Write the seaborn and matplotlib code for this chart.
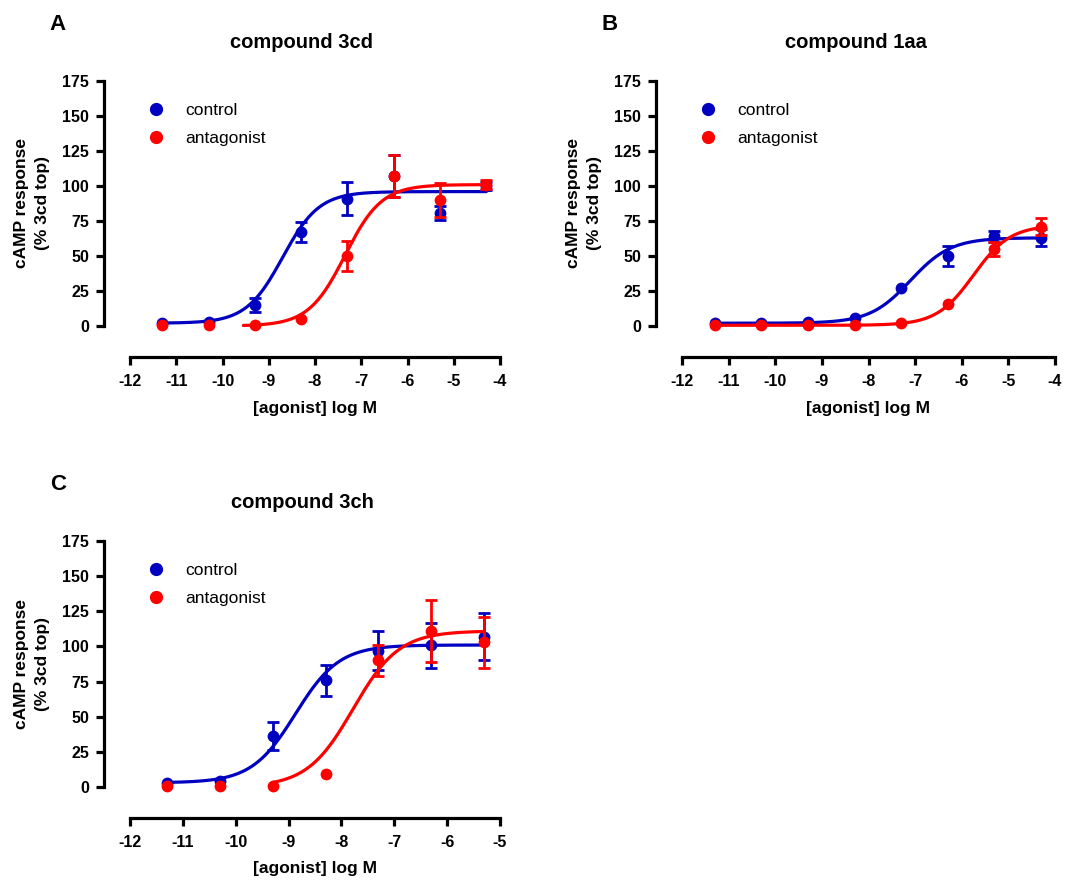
import numpy as np
import matplotlib
matplotlib.use("Agg")
import matplotlib.pyplot as plt
from matplotlib.lines import Line2D
import seaborn as sns

# --- DATOS ---
# log [agonista] usado en los tres paneles
log_ag = [-11.3, -10.3, -9.3, -8.3, -7.3, -6.3, -5.3, -4.3]
log_ag_c = [-11.3, -10.3, -9.3, -8.3, -7.3, -6.3, -5.3]

# Panel A: compound 3cd
a_control = [2, 3, 15, 67, 91, 107, 81, 100]
a_control_err = [0, 0, 5, 7, 12, 15, 5, 3]
a_antag = [1, 1, 1, 5, 50, 107, 90, 101]
a_antag_err = [0, 0, 0, 0, 11, 15, 12, 3]

# Panel B: compound 1aa
b_control = [2, 2, 2.5, 6, 27, 50, 64, 63]
b_control_err = [0, 0, 0, 0, 0, 7, 4, 6]
b_antag = [0.5, 0.5, 0.5, 0.5, 2, 16, 55, 71]
b_antag_err = [0, 0, 0, 0, 0, 0, 5, 6]

# Panel C: compound 3ch
c_control = [3, 4, 36, 76, 97, 101, 107]
c_control_err = [0, 0, 10, 11, 14, 16, 17]
c_antag = [1, 1, 1, 9, 90, 111, 103]
c_antag_err = [0, 0, 0, 0, 11, 22, 18]

# ajuste sigmoidal (bottom, top, logEC50, hill) y rango de la curva
a_control_fit = [2, 96, -8.7, 1.1]
a_antag_fit = [0, 101, -7.35, 1.1]
b_control_fit = [2, 63, -7.1, 1.0]
b_antag_fit = [0.5, 72, -5.75, 1.1]
c_control_fit = [3, 101, -8.87, 1.05]
c_antag_fit = [0, 111, -7.78, 1.0]

a_control_rango = [-11.3, -4.3]
a_antag_rango = [-9.55, -4.3]
b_control_rango = [-11.3, -4.3]
b_antag_rango = [-11.3, -4.3]
c_control_rango = [-11.3, -5.3]
c_antag_rango = [-9.3, -5.3]

titulos = ['compound 3cd', 'compound 1aa', 'compound 3ch']
letras = ['A', 'B', 'C']
series = ['control', 'antagonist']
y_ticks = [0, 25, 50, 75, 100, 125, 150, 175]

AZUL = '#0000C0'
ROJO = '#FF0000'


def sigmoide(x, p):
    bottom, top, logec50, hill = p
    return bottom + (top - bottom) / (1 + 10 ** (hill * (logec50 - x)))


sns.set_style("ticks")
plt.rcParams['font.family'] = ['Liberation Sans', 'DejaVu Sans']
plt.rcParams['font.weight'] = 'bold'
plt.rcParams['axes.unicode_minus'] = False
for k in ['text.color', 'axes.labelcolor', 'xtick.color', 'ytick.color', 'axes.edgecolor']:
    plt.rcParams[k] = 'black'

fig = plt.figure(figsize=(10.73, 8.81), dpi=100)
W, H = 1073.0, 881.0

# posiciones en pixeles: (x de -12, x del final, y de 0, y de 175)
cajas = [(130, 500, 326, 81), (682, 1055, 326, 81), (130, 500, 787, 541)]
xlims = [(-12, -4), (-12, -4), (-12, -5)]
paneles = [
    (log_ag, a_control, a_control_err, a_antag, a_antag_err,
     a_control_fit, a_antag_fit, a_control_rango, a_antag_rango),
    (log_ag, b_control, b_control_err, b_antag, b_antag_err,
     b_control_fit, b_antag_fit, b_control_rango, b_antag_rango),
    (log_ag_c, c_control, c_control_err, c_antag, c_antag_err,
     c_control_fit, c_antag_fit, c_control_rango, c_antag_rango),
]

for i, (x, yc, ec, ya, ea, fc, fa, rc, ra) in enumerate(paneles):
    x0, x1, y0, y1 = cajas[i]
    ax = fig.add_axes([x0 / W, 1 - y0 / H, (x1 - x0) / W, (y0 - y1) / H])

    for yv, ev, fit, rango, col, z in [(yc, ec, fc, rc, AZUL, 2), (ya, ea, fa, ra, ROJO, 4)]:
        xx = np.linspace(rango[0], rango[1], 300)
        sns.lineplot(x=xx, y=sigmoide(xx, fit), color=col, linewidth=2.3,
                     ax=ax, zorder=z, clip_on=False)
        # GraphPad no dibuja barras mas pequenas que el simbolo
        xa, ya_, ea_ = np.array(x), np.array(yv), np.array(ev)
        m = ea_ > 0
        ax.errorbar(xa[m], ya_[m], yerr=ea_[m], fmt='none', ecolor=col,
                    elinewidth=2.0, capsize=4, capthick=2.0, zorder=z + 0.5,
                    clip_on=False)
        sns.scatterplot(x=x, y=yv, color=col, s=72, linewidth=0, ax=ax,
                        zorder=z + 1, clip_on=False, legend=False)

    ax.set_xlim(*xlims[i])
    ax.set_ylim(0, 175)
    ax.set_xticks(range(xlims[i][0], xlims[i][1] + 1))
    ax.set_yticks(y_ticks)
    ax.set_xlabel('')
    ax.set_ylabel('')
    sns.despine(ax=ax)
    ax.spines['left'].set_position(('outward', 19))
    ax.spines['bottom'].set_position(('outward', 22))
    for s in ['left', 'bottom']:
        ax.spines[s].set_linewidth(2.3)
    ax.tick_params(axis='both', direction='out', length=5.5, width=2.3,
                   labelsize=11.5, pad=5)
    ax.tick_params(axis='x', pad=7)
    for t in ax.get_xticklabels() + ax.get_yticklabels():
        t.set_fontweight('bold')

    handles = [Line2D([], [], marker='o', linestyle='', color=c, markersize=8.5)
               for c in [AZUL, ROJO]]
    ax.legend(handles, series, loc='upper left', bbox_to_anchor=(0.055, 0.91),
              frameon=False, borderpad=0, borderaxespad=0, handlelength=0.6,
              handletextpad=1.4, labelspacing=0.75,
              prop={'size': 12.5, 'weight': 'normal'})

    # titulos, letras y etiquetas de ejes
    yc_pix = (y0 + y1) / 2
    fig.text(((x0 - 26) + x1) / 2 / W, 1 - (y1 - 39) / H, titulos[i],
             ha='center', va='center', fontsize=14.5, fontweight='bold')
    fig.text((x0 - 72) / W, 1 - (y1 - 56) / H, letras[i],
             ha='center', va='center', fontsize=16, fontweight='bold')
    fig.text((x0 - 98) / W, 1 - yc_pix / H, 'cAMP response\n(% 3cd top)',
             ha='center', va='center', rotation=90, fontsize=12.5,
             fontweight='bold', linespacing=1.5)
    fig.text((x0 + x1) / 2 / W, 1 - (y0 + 82) / H, '[agonist] log M',
             ha='center', va='center', fontsize=12.5, fontweight='bold')

fig.savefig('out.png', dpi=100)
